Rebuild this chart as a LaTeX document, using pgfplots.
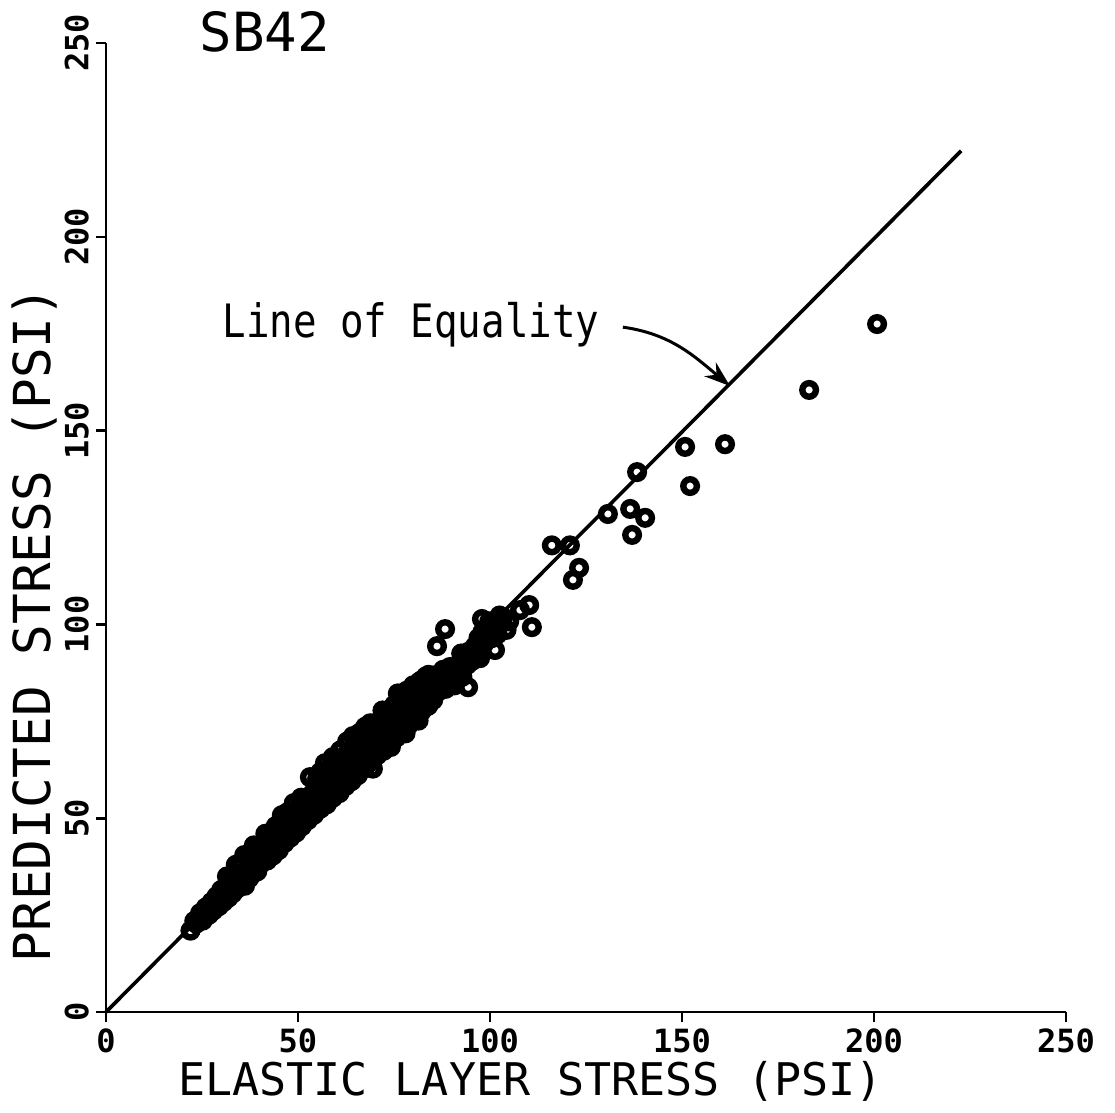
\documentclass[border=0pt]{standalone}
\usepackage{pgfplots}
\pgfplotsset{compat=1.18}
\usetikzlibrary{arrows.meta}
\usepackage{fontspec}
\setmainfont{DejaVu Sans Mono}
\newfontfamily\eqfont[FakeStretch=0.85]{DejaVu Sans Mono}

\pgfplotstableread{
x y
22.0 21.0
23.5 22.8
24.5 25.5
25.2 23.6
26.0 27.0
26.8 25.1
27.5 28.4
28.0 26.2
28.8 29.9
29.4 27.3
30.0 31.5
30.6 28.4
31.3 32.0
31.9 29.5
32.5 33.8
33.0 30.6
33.6 35.9
34.1 31.8
34.7 37.5
35.3 33.0
35.8 36.0
36.2 32.6
36.8 39.5
37.3 34.5
37.9 41.0
38.4 35.8
39.0 38.8
39.4 36.3
39.9 42.5
40.5 38.4
41.0 40.2
41.6 44.1
42.0 39.1
42.6 42.0
43.1 45.6
43.5 40.4
44.0 43.3
44.6 46.8
45.0 41.8
45.5 44.9
46.0 48.3
46.5 43.6
47.0 46.2
47.6 49.9
48.0 45.0
48.5 47.8
49.0 51.6
49.5 46.3
50.0 49.1
50.5 53.6
51.0 47.9
51.6 50.9
52.1 54.8
52.6 49.5
53.1 60.6
53.2 52.4
53.7 56.3
54.2 50.9
54.8 53.8
55.3 58.2
55.9 52.5
56.4 55.4
57.0 59.8
57.0 64.2
57.5 53.6
58.0 57.1
58.6 61.5
59.1 65.8
59.1 55.3
59.7 58.6
60.2 64.8
60.8 56.5
61.3 60.7
61.9 65.9
62.4 58.3
63.0 62.4
63.5 67.2
64.0 59.6
64.3 71.2
64.6 63.9
65.1 69.0
65.6 61.1
66.2 65.7
66.8 70.4
67.3 62.9
67.9 67.1
68.4 72.3
69.0 64.6
69.5 62.8
69.5 68.9
70.0 73.5
70.6 66.2
71.2 71.1
71.7 75.8
72.3 67.4
72.8 73.2
73.4 77.4
73.9 69.5
74.5 74.5
75.0 79.2
75.6 70.8
76.1 76.1
76.7 81.0
77.2 72.6
77.8 77.9
78.3 82.9
78.9 74.1
79.4 79.7
80.0 84.3
80.5 75.9
81.1 81.2
81.6 85.2
82.2 77.6
82.8 82.9
83.3 86.6
83.9 79.0
84.5 84.4
85.2 80.5
85.8 86.9
86.2 94.4
86.4 82.6
87.0 85.1
87.8 88.3
88.3 98.8
88.5 83.4
89.2 87.0
90.1 87.7
90.8 84.3
91.4 85.7
92.0 89.9
92.8 86.5
93.5 91.6
94.3 83.8
94.3 92.9
95.2 90.5
96.0 94.3
97.4 91.3
97.0 96.5
97.9 101.4
98.6 95.2
99.5 98.0
100.3 96.4
101.3 93.4
101.0 99.6
102.0 97.5
103.4 101.9
104.3 98.6
105.0 100.8
107.8 103.7
110.2 105.0
110.9 99.3
116.1 120.4
120.8 120.4
121.6 111.5
123.2 114.6
130.7 128.5
136.5 129.8
137.0 123.1
138.3 139.3
140.4 127.5
150.8 145.8
152.1 135.7
161.2 146.5
183.1 160.5
200.8 177.5
23.0 23.5
24.0 24.2
25.5 26.0
27.0 26.5
28.3 28.0
29.8 29.5
31.0 30.5
32.2 31.8
33.3 33.0
34.5 34.0
35.5 35.2
36.5 36.4
37.6 37.2
38.7 38.6
40.0 40.0
40.8 42.0
42.3 43.5
43.8 42.0
45.2 46.5
46.8 45.0
48.2 49.5
49.8 48.0
51.3 52.5
52.8 51.2
54.5 55.5
56.0 55.0
57.8 58.8
59.5 57.5
60.6 62.3
62.0 61.0
63.3 64.6
65.0 65.5
66.5 67.8
68.0 69.5
69.8 71.0
71.0 69.0
72.5 71.0
74.0 72.0
75.3 77.0
76.9 74.5
78.6 80.5
80.2 78.0
81.8 83.0
83.5 81.5
85.0 83.0
86.5 85.5
88.0 86.5
89.5 89.0
91.0 88.0
92.5 92.5
94.0 89.5
95.5 93.0
97.0 93.0
98.0 98.0
99.8 100.8
102.5 102.3
61.5 63.0
63.8 61.8
67.0 64.8
70.3 68.0
73.0 74.8
74.8 76.0
79.0 77.0
82.5 80.0
84.0 87.0
58.5 63.5
55.0 60.3
61.0 67.5
66.0 72.0
68.8 74.5
71.5 73.5
77.0 79.5
79.8 82.0
82.0 85.5
50.8 55.3
47.2 51.5
44.2 48.0
41.5 46.0
38.5 43.0
36.0 40.5
33.8 38.0
31.5 35.0
62.8 69.8
67.5 73.6
72.0 77.8
76.0 82.2
74.2 68.4
78.0 71.9
81.4 75.2
45.8 50.8
48.9 53.9
55.8 61.9
}\pts

\begin{document}
\begin{tikzpicture}
\begin{axis}[name=ax, scale only axis, width=480pt, height=484.5pt,
  xmin=0, xmax=250, ymin=0, ymax=250,
  axis x line=bottom, axis y line=left,
  axis line style={-, line width=1.3pt, black},
  xtick={0,50,...,250}, ytick={0,50,...,250},
  tick align=outside, major tick length=5pt,
  tick style={line width=1.3pt, black},
  ticklabel style={font=\bfseries\fontsize{16}{16}\selectfont},
  /pgf/number format/assume math mode=true,
  yticklabel style={rotate=90, anchor=south},
  xlabel={ELASTIC LAYER STRESS (PSI)},
  ylabel={PREDICTED STRESS (PSI)},
  xlabel style={at={(rel axis cs:0.442,-0.0712)}, anchor=center, font=\fontsize{22.5}{23}\selectfont},
  ylabel style={at={(rel axis cs:-0.074,0.40)}, anchor=center, font=\fontsize{25.5}{26}\selectfont},
  clip=false]
\addplot[line width=1.8pt, black, no marks] coordinates {(0,0) (222.7,222.2)};
\addplot[only marks, mark=o, mark size=3.4pt, mark options={line width=3.2pt, black}] table[x=x, y=y] {\pts};
\node[font=\fontsize{27}{27}\selectfont] at (axis cs:41.4,253) {SB42};
\node[font=\eqfont\fontsize{23}{24}\selectfont] at (axis cs:79.4,177.2) {Line of Equality};
\draw[line width=1.5pt, -{Stealth[length=13pt,width=9pt]}] (axis cs:134.6,176.7) to[out=-8,in=140] (axis cs:162.5,161.5);
\coordinate (bbsw) at (rel axis cs:-0.1104,-0.1032);
\coordinate (bbne) at (rel axis cs:1.0510,1.0444);
\end{axis}
\pgfresetboundingbox
\path[use as bounding box] (bbsw) rectangle (bbne);
\end{tikzpicture}
\end{document}
